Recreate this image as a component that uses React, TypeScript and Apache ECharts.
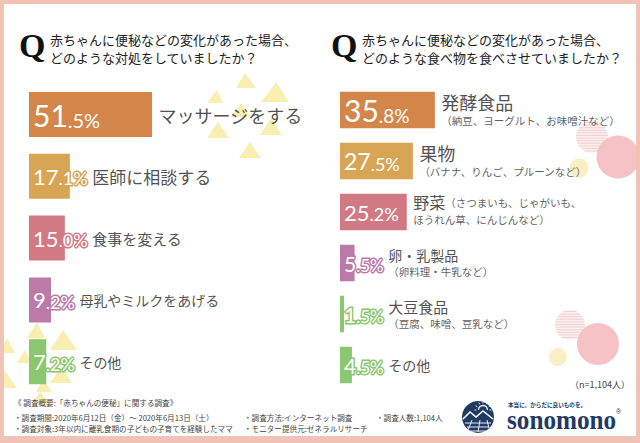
import React, { useEffect, useRef } from 'react';
import * as echarts from 'echarts';

// ---------- data ----------
const leftTitle = ['赤ちゃんに便秘などの変化があった場合、', 'どのような対処をしていましたか？'];
const rightTitle = ['赤ちゃんに便秘などの変化があった場合、', 'どのような食べ物を食べさせていましたか？'];

const leftCategories = ['マッサージをする', '医師に相談する', '食事を変える', '母乳やミルクをあげる', 'その他'];
const leftValues = [51.5, 17.1, 15.0, 9.2, 7.2];

const rightCategories = ['発酵食品', '果物', '野菜', '卵・乳製品', '大豆食品', 'その他'];
const rightNotes = [
  '（納豆、ヨーグルト、お味噌汁など）',
  '（バナナ、りんご、プルーンなど）',
  '（さつまいも、じゃがいも、\nほうれん草、にんじんなど）',
  '（卵料理・牛乳など）',
  '（豆腐、味噌、豆乳など）',
  '',
];
const rightValues = [35.8, 27.5, 25.2, 5.5, 1.5, 4.5];

const footerLines = [
  '《 調査概要:「赤ちゃんの便秘」に関する調査》',
  '・調査期間:2020年6月12日（金）～ 2020年6月13日（土）',
  '・調査対象:3年以内に離乳食期の子どもの子育てを経験したママ',
];
const footerMid = ['・調査方法:インターネット調査', '・モニター提供元:ゼネラルリサーチ'];
const footerRight = '・調査人数:1,104人';
const sampleNote = '（n=1,104人）';
const brandTagline = '本当に、からだに良いものを。';
const brandName = 'sonomono';

// ---------- styles ----------
const leftColors = ['#d4864a', '#d8a555', '#d27a84', '#bc7aa9', '#8ac76f'];
const rightColors = ['#d4864a', '#d8a555', '#d27a84', '#bc7aa9', '#8ac76f', '#8ac76f'];
const leftBig = [30, 22, 22, 22, 22];
const leftSmall = [20, 18, 18, 18, 18];
const rightBig = [30, 23, 22, 21, 21, 21];
const rightSmall = [19, 18, 18, 17, 17, 17];
const leftCatSizes = [18, 17, 15, 14, 14];
const rightNameSizes = [18, 18, 16, 14, 15, 14];
const rightNoteInline = [false, false, true, false, false, false];

const CJK = '"Noto Sans CJK JP", "Noto Sans", sans-serif';
const NUM = 'Lato, "Noto Sans", sans-serif';
const PINK = '#f1c3b7';
const TRI = '#f8eca2';

const LEFT_GRID = { left: 29, top: 83.6, width: 239, height: 309 };
const RIGHT_GRID = { left: 340, top: 84.5, width: 265, height: 306 };

export default function App() {
  const ref = useRef<HTMLDivElement>(null);

  useEffect(() => {
    if (!ref.current) return;
    const chart = echarts.init(ref.current, null, { renderer: 'svg' });
    const ctx = document.createElement('canvas').getContext('2d')!;
    const tw = (t: string, size: number) => {
      ctx.font = `${size}px Lato`;
      return ctx.measureText(t).width;
    };
    const splitPct = (v: number) => {
      const [a, b] = v.toFixed(1).split('.');
      return [a, '.' + b + '%'];
    };

    const pctRich = (colors: string[], big: number[], small: number[]) => {
      const r: any = {};
      colors.forEach((c, i) => {
        const base = {
          fontFamily: NUM,
          color: '#fff',
          textBorderColor: c,
          textBorderWidth: 3,
          verticalAlign: 'bottom',
        };
        r['b' + i] = { ...base, fontSize: big[i] };
        r['s' + i] = { ...base, fontSize: small[i] };
      });
      return r;
    };

    const catOffset = (v: number, i: number, gridW: number, big: number[], small: number[]) => {
      const barPx = (v * gridW) / 100;
      const [a, b] = splitPct(v);
      const pctEnd = 4 + tw(a, big[i]) + tw(b, small[i]);
      return Math.max(barPx + 6, pctEnd + 4) - barPx;
    };

    // right labels rich
    const rightRich: any = { s: { fontFamily: CJK, fontSize: 10.5, lineHeight: 16, color: '#333' } };
    rightNameSizes.forEach((s, i) => {
      rightRich['n' + i] = { fontFamily: CJK, fontSize: s, lineHeight: s + 3, color: '#222' };
    });
    const rightLabelText = (i: number) => {
      const name = `{n${i}|${rightCategories[i]}}`;
      const note = rightNotes[i];
      if (!note) return name;
      const parts = note.split('\n');
      if (rightNoteInline[i]) {
        return name + `{s|${parts[0]}}` + (parts[1] ? `\n{s|${parts[1]}}` : '');
      }
      return name + '\n' + parts.map((p) => `{s|${p}}`).join('\n');
    };

    // decorations
    const triangles = [
      [[245, 73], [236, 88], [256, 88]],
      [[276, 82], [261, 102], [289, 102]],
      [[217, 90], [207, 103], [223, 103]],
      [[241, 103], [231, 117], [251, 117]],
      [[218, 122], [207, 138], [229, 138]],
      [[271, 118], [260, 135], [282, 135]],
      [[250, 142], [239, 158], [261, 158]],
      [[37, 322], [27, 338], [45, 338]],
      [[63, 330], [50, 350], [77, 350]],
      [[7, 338], [0, 353], [15, 353]],
      [[25, 350], [17, 363], [32, 363]],
      [[62, 366], [50, 383], [72, 383]],
      [[5, 371], [0, 388], [17, 388]],
      [[43, 379], [36, 392], [52, 392]],
      [[40, 392], [32, 404], [50, 404]],
    ];
    const graphics: any[] = [];
    triangles.forEach((pts) =>
      graphics.push({ type: 'polygon', shape: { points: pts }, style: { fill: TRI, opacity: 0.85 }, z: 1, silent: true })
    );
    const striped = (cx: number, cy: number, r: number) => {
      graphics.push({ type: 'circle', shape: { cx, cy, r }, style: { fill: '#fdf1f1' }, z: 1, silent: true });
      for (let y = cy - r + 1.5; y < cy + r; y += 2.6) {
        const hw = Math.sqrt(Math.max(0, r * r - (y - cy) * (y - cy)));
        graphics.push({
          type: 'line',
          shape: { x1: cx - hw, y1: y, x2: cx + hw, y2: y },
          style: { stroke: '#f4d2d2', lineWidth: 1.1 },
          z: 1,
          silent: true,
        });
      }
    };
    striped(592, 137, 16);
    striped(570, 325, 15);
    [
      [618, 157, 21.5, '#f4c0c2'],
      [579, 168, 9.5, '#f8efc2'],
      [598, 344, 21, '#f4c0c2'],
      [558, 357, 9, '#f8efc2'],
    ].forEach(([cx, cy, r, c]: any) =>
      graphics.push({ type: 'circle', shape: { cx, cy, r }, style: { fill: c, opacity: 0.95 }, z: 1, silent: true })
    );

    // frame
    [
      [0, 0, 640, 4],
      [0, 0, 4, 443],
      [636, 0, 4, 443],
      [0, 436, 640, 7],
    ].forEach(([x, y, w, h]) =>
      graphics.push({ type: 'rect', shape: { x, y, width: w, height: h }, style: { fill: PINK }, z: 10, silent: true })
    );

    const txt = (text: string, x: number, y: number, font: string, fill = '#222', align = 'left', extra: any = {}) => ({
      type: 'text',
      x,
      y,
      z: 5,
      silent: true,
      ...extra,
      style: { text, font, fill, align, verticalAlign: 'middle' },
    });

    // titles
    graphics.push(txt('Q', 19, 45, 'bold 34px "Liberation Serif", serif', '#111'));
    graphics.push(txt(leftTitle[0], 50, 39, `13px ${CJK}`));
    graphics.push(txt(leftTitle[1], 50, 57, `13px ${CJK}`));
    graphics.push(txt('Q', 331, 45, 'bold 34px "Liberation Serif", serif', '#111'));
    graphics.push(txt(rightTitle[0], 362, 39, `13px ${CJK}`));
    graphics.push(txt(rightTitle[1], 362, 57, `13px ${CJK}`));

    // footer
    graphics.push(txt(footerLines[0], 14, 402, `7.6px ${CJK}`, '#444'));
    graphics.push(txt(footerLines[1], 14, 417, `7.6px ${CJK}`, '#444'));
    graphics.push(txt(footerLines[2], 14, 428, `7.6px ${CJK}`, '#444'));
    graphics.push(txt(footerMid[0], 244, 417, `7.6px ${CJK}`, '#444'));
    graphics.push(txt(footerMid[1], 244, 428, `7.6px ${CJK}`, '#444'));
    graphics.push(txt(footerRight, 376, 417, `7.6px ${CJK}`, '#444'));
    graphics.push(txt(sampleNote, 630, 384, `9px ${CJK}`, '#444', 'right'));

    // logo
    const NAVY = '#1f3a63';
    graphics.push({ type: 'circle', shape: { cx: 478, cy: 417, r: 16 }, style: { fill: NAVY }, z: 5, silent: true });
    graphics.push({
      type: 'arc',
      shape: { cx: 483, cy: 410, r: 4.5, startAngle: Math.PI, endAngle: Math.PI * 2 },
      style: { stroke: '#fff', lineWidth: 1.3, fill: 'none' },
      z: 6,
      silent: true,
    });
    for (let k = 0; k < 7; k++) {
      const a = Math.PI + (k * Math.PI) / 6;
      graphics.push({
        type: 'line',
        shape: { x1: 483 + Math.cos(a) * 6.5, y1: 410 + Math.sin(a) * 6.5, x2: 483 + Math.cos(a) * 8.5, y2: 410 + Math.sin(a) * 8.5 },
        style: { stroke: '#fff', lineWidth: 0.9 },
        z: 6,
        silent: true,
      });
    }
    graphics.push({
      type: 'polyline',
      shape: { points: [[463, 419], [470, 412], [476, 417], [483, 411], [493, 419]] },
      style: { stroke: '#fff', lineWidth: 1.6, fill: 'none' },
      z: 6,
      silent: true,
    });
    [[465, 423, 491, 423], [467, 427, 489, 427], [470, 431, 486, 431]].forEach(([x1, y1, x2, y2]) =>
      graphics.push({ type: 'line', shape: { x1, y1, x2, y2 }, style: { stroke: '#fff', lineWidth: 0.9 }, z: 6, silent: true })
    );
    [[472, 420, 468, 430], [480, 420, 478, 432], [487, 420, 489, 428]].forEach(([x1, y1, x2, y2]) =>
      graphics.push({ type: 'line', shape: { x1, y1, x2, y2 }, style: { stroke: '#fff', lineWidth: 0.9 }, z: 6, silent: true })
    );
    graphics.push(txt(brandTagline, 508, 405, `bold 5.6px ${CJK}`, NAVY));
    graphics.push(txt(brandName, 507, 420, 'bold 28px "Liberation Serif", serif', NAVY, 'left', { scaleX: 0.9 }));
    graphics.push(txt('®', 616, 411, '7px "Liberation Sans", sans-serif', NAVY));

    const option: any = {
      animation: false,
      grid: [
        { ...LEFT_GRID, containLabel: false },
        { ...RIGHT_GRID, containLabel: false },
      ],
      xAxis: [
        { gridIndex: 0, type: 'value', min: 0, max: 100, show: false },
        { gridIndex: 1, type: 'value', min: 0, max: 100, show: false },
      ],
      yAxis: [
        { gridIndex: 0, type: 'category', data: leftCategories, inverse: true, show: false },
        { gridIndex: 1, type: 'category', data: rightCategories, inverse: true, show: false },
      ],
      graphic: { elements: graphics },
      series: [
        {
          type: 'bar',
          xAxisIndex: 0,
          yAxisIndex: 0,
          barWidth: 45,
          silent: true,
          data: leftValues.map((v, i) => ({ value: v, itemStyle: { color: leftColors[i] } })),
          label: {
            show: true,
            position: 'insideLeft',
            distance: 4,
            formatter: (p: any) => {
              const [a, b] = splitPct(p.value);
              return `{b${p.dataIndex}|${a}}{s${p.dataIndex}|${b}}`;
            },
            rich: pctRich(leftColors, leftBig, leftSmall),
          },
        },
        {
          type: 'bar',
          xAxisIndex: 1,
          yAxisIndex: 1,
          barWidth: 36.5,
          silent: true,
          data: rightValues.map((v, i) => ({ value: v, itemStyle: { color: rightColors[i] } })),
          label: {
            show: true,
            position: 'insideLeft',
            distance: 4,
            formatter: (p: any) => {
              const [a, b] = splitPct(p.value);
              return `{b${p.dataIndex}|${a}}{s${p.dataIndex}|${b}}`;
            },
            rich: pctRich(rightColors, rightBig, rightSmall),
          },
        },
        {
          type: 'scatter',
          xAxisIndex: 0,
          yAxisIndex: 0,
          symbolSize: 1,
          silent: true,
          itemStyle: { color: 'rgba(0,0,0,0)' },
          data: leftValues.map((v, i) => ({
            value: [v, i],
            label: {
              offset: [catOffset(v, i, LEFT_GRID.width, leftBig, leftSmall), 0],
              fontSize: leftCatSizes[i],
              formatter: leftCategories[i],
            },
          })),
          label: { show: true, position: 'right', distance: 0, color: '#222', fontFamily: CJK },
        },
        {
          type: 'scatter',
          xAxisIndex: 1,
          yAxisIndex: 1,
          symbolSize: 1,
          silent: true,
          itemStyle: { color: 'rgba(0,0,0,0)' },
          data: rightValues.map((v, i) => ({
            value: [v, i],
            label: {
              offset: [catOffset(v, i, RIGHT_GRID.width, rightBig, rightSmall), rightNoteInline[i] ? -2 : 0],
              formatter: rightLabelText(i),
            },
          })),
          label: { show: true, position: 'right', distance: 0, color: '#222', fontFamily: CJK, rich: rightRich },
        },
      ],
    };
    chart.setOption(option);
    return () => chart.dispose();
  }, []);

  return (
    <div style={{ position: 'fixed', left: 0, top: 0, width: 640, height: 443, background: '#fff' }}>
      <div ref={ref} style={{ width: 640, height: 443 }} />
    </div>
  );
}
